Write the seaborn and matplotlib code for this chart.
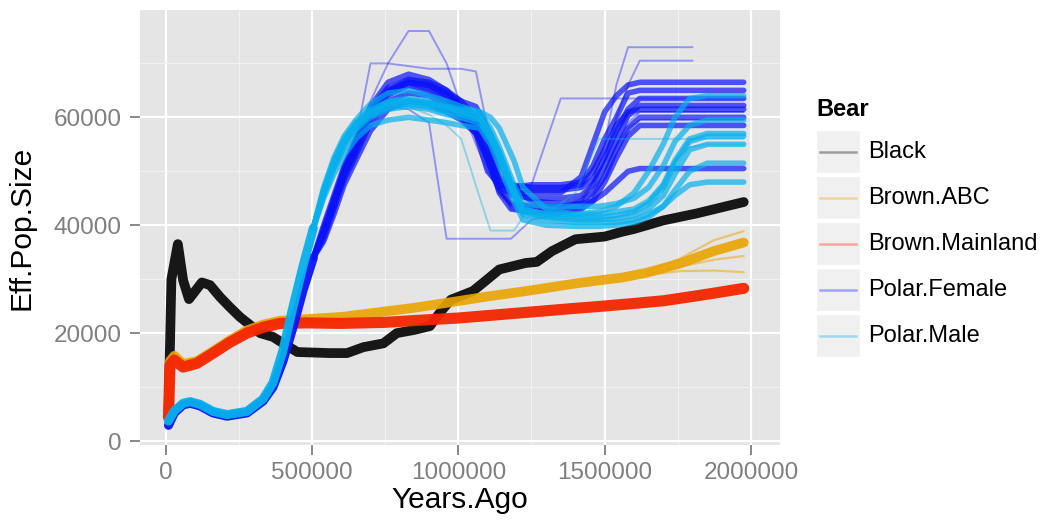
import numpy as np
import pandas as pd
import matplotlib
matplotlib.use("Agg")
import matplotlib.pyplot as plt
from matplotlib.patches import Rectangle
from matplotlib.lines import Line2D
import seaborn as sns

# ---------------- data ----------------
BEARS = ["Black", "Brown.ABC", "Brown.Mainland", "Polar.Female", "Polar.Male"]

BLACK_X = [10000, 20000, 42000, 60000, 80000, 124000, 152000, 186000, 220000, 254000,
           289000, 323000, 367000, 402000, 450000, 560000, 620000, 676000, 744000, 790000,
           850000, 903000, 940000, 975000, 1050000, 1100000, 1140000, 1230000, 1268000,
           1320000, 1400000, 1500000, 1560000, 1600000, 1701000, 1815000, 1975000]
BLACK_Y = [4800, 30000, 36500, 29800, 26300, 29400, 28900, 26700, 24800, 23000,
           21500, 20000, 19300, 18100, 16500, 16300, 16300, 17400, 18100, 20000,
           20600, 21300, 24000, 26200, 27800, 30000, 31800, 33000, 33200,
           35200, 37400, 37900, 38800, 39300, 40900, 42200, 44300]

ORANGE_X = [10000, 15000, 30000, 60000, 107000, 163000, 220000, 278000, 334000, 391000,
            483000, 600000, 733000, 850000, 995000, 1100000, 1245000, 1400000, 1484000,
            1560000, 1644000, 1757000, 1872000, 1975000]
ORANGE_Y = [4600, 14800, 15800, 14300, 14800, 16700, 18700, 20500, 21600, 22300,
            22600, 23000, 23900, 24700, 25900, 26800, 27900, 29200, 29800,
            30300, 31200, 32900, 35200, 36800]
ORANGE_TAIL_X = [1644000, 1757000, 1872000, 1975000]
ORANGE_TAIL_HI = [31400, 33800, 37200, 38900]
ORANGE_TAIL_LO = [31000, 32300, 33600, 34300]
ORANGE_TAIL_LOW2 = [30800, 31500, 31600, 31300]

RED_X = [10000, 15000, 30000, 60000, 107000, 163000, 220000, 278000, 334000, 391000,
         483000, 600000, 750000, 903000, 1000000, 1245000, 1400000, 1494000, 1600000,
         1701000, 1800000, 1872000, 1975000]
RED_Y = [4400, 14000, 15000, 13700, 14400, 16300, 18300, 20000, 21100, 21800,
         21900, 21800, 22000, 22500, 22800, 23900, 24600, 25000, 25500,
         26000, 26800, 27400, 28300]

# polar bears: shared early history, then bootstrap replicates
EARLY_X = [10000, 30000, 60000, 84000, 118000, 162000, 210000, 278000, 333000, 367000,
           401000, 435000, 470000, 505000]
FEMALE_EARLY_Y = [2900, 5200, 6700, 7000, 6500, 5200, 4600, 5200, 7400, 10000,
                  14800, 21000, 28000, 34000]
MALE_EARLY_Y = [3700, 5600, 7000, 7300, 6800, 5500, 4900, 5500, 7800, 10800,
                16800, 24800, 32500, 39500]

FX = [505000, 540000, 575000, 610000, 650000, 700000, 760000, 830000, 900000, 960000,
      1010000, 1060000, 1100000, 1140000, 1180000, 1250000, 1350000, 1420000, 1460000,
      1500000, 1540000, 1580000, 1620000, 1800000, 1975000]
F_A = [34000, 38200, 43700, 49300, 53900, 60400, 64100, 65900, 65000, 63200, 61300, 58500, 53900,
       47800, 45500, 45000, 45000, 45500, 47500, 51100, 55700, 60400, 62200, 62200, 62200]
F_B = [34000, 40000, 45500, 51000, 56000, 62000, 66500, 68000, 67000, 65000, 62000, 57000, 50000,
       47500, 47000, 47500, 47500, 48000, 51000, 56000, 60000, 64500, 65000, 65000, 65000]
F_C = [34000, 37000, 42000, 47500, 52000, 57500, 61500, 63000, 62500, 61000, 59500, 57000, 53000,
       46000, 43000, 42500, 42500, 43000, 44500, 48000, 52500, 56500, 58500, 58500, 58500]
F_D = [34000, 39000, 44500, 50000, 55000, 61000, 64500, 66500, 66000, 64500, 63000, 62000, 58000,
       52000, 47000, 44500, 44000, 44500, 46000, 49000, 54000, 58000, 60000, 60000, 60000]
F_E = [34000, 38500, 44000, 49500, 54500, 61000, 65000, 67000, 66000, 64000, 61500, 58000, 52000,
       47000, 46000, 46000, 46000, 49000, 55000, 61000, 64000, 66000, 66500, 66500, 66500]
F_M = [34000, 38800, 44200, 49800, 54500, 61000, 64800, 66500, 65800, 64000, 62000, 59500, 55000,
       48500, 46500, 46500, 46500, 47000, 48500, 52500, 57500, 61500, 63500, 63500, 63500]
F_K = [34000, 37500, 43000, 48500, 53000, 59000, 63000, 64500, 64000, 62000, 60000, 57000, 52000,
       46500, 44000, 43500, 43500, 44000, 44500, 46000, 48000, 50000, 50500, 50500, 50500]
F_N = [34000, 39500, 45000, 50500, 55500, 61500, 65500, 67000, 66500, 65000, 63000, 60000, 56000,
       49000, 47500, 47000, 47000, 47500, 50000, 54000, 58500, 61000, 61500, 61500, 61500]
# outlying replicates
F_F = [34000, 39000, 45000, 51000, 56000, 63000, 70000, 76000, 76000, 70000, 62000, 55000, 50000,
       46000, 44000, 43500, 43500, 44500, 47000, 52000, 57000, 60000, 61000, 61000, 61000]
F_G = [34000, 38000, 43000, 48500, 53000, 59000, 62000, 61500, 59000, 37500, 37500, 37500, 37500,
       37500, 37500, 41000, 42000, 43500, 46000, 50000, 54500, 58000, 59500, 59500, 59500]
F_H = [34000, 38500, 44000, 49500, 54500, 60500, 64500, 66000, 65000, 63000, 60500, 57500, 53000,
       47500, 47000, 47500, 63500, 63500, 63500, 63500, 63500, 63500, 63500, 63500, 63500]
F_I = [34000, 38000, 43500, 49000, 53500, 60000, 64000, 65500, 64500, 62500, 60500, 57500, 52500,
       47000, 43500, 42500, 42500, 44000, 48000, 55000, 66000, 73000, 73000, 73000, np.nan]
F_J = [34000, 39500, 45000, 50500, 56000, 70000, 70000, 69500, 69000, 69000, 69000, 68500, 58000,
       47000, 43000, 42000, 42000, 43000, 45500, 50000, 55000, 59000, 61000, 61000, 61000]
F_L = [34000, 38500, 44000, 49500, 54000, 60500, 64500, 66000, 65000, 63000, 61000, 58000, 53000,
       47000, 44000, 43000, 43000, 45000, 48000, 52000, 60000, 66000, 70500, 70500, np.nan]

MX = [505000, 540000, 575000, 610000, 650000, 700000, 760000, 830000, 900000, 960000,
      1010000, 1074000, 1110000, 1140000, 1190000, 1221000, 1300000, 1400000, 1480000,
      1540000, 1600000, 1650000, 1700000, 1740000, 1790000, 1850000, 1975000]
M_A = [39500, 46000, 51000, 55000, 58000, 60500, 62000, 62500, 62000, 61000, 60500, 59500, 56500, 53000,
       46000, 42500, 41500, 41000, 41000, 41200, 41800, 43000, 45500, 49500, 54000, 55000, 55000]
M_B = [39500, 47000, 52500, 56500, 59500, 62500, 64500, 65000, 64000, 63000, 62000, 61000, 58000, 54500,
       47500, 44000, 43500, 43500, 43500, 44000, 45000, 47000, 51000, 55500, 58500, 59500, 59500]
M_C = [39500, 45000, 49500, 53000, 56000, 58500, 59500, 60000, 59500, 59000, 58500, 58000, 55000, 51000,
       44500, 41000, 40000, 39800, 39800, 40000, 40500, 41500, 43500, 46500, 50000, 51500, 51500]
M_D = [39500, 46500, 52000, 56000, 59000, 61500, 63000, 63500, 63000, 62000, 61000, 60000, 57000, 53500,
       46500, 43000, 42000, 42000, 42500, 43500, 46000, 50000, 55000, 60000, 63500, 64000, 64000]
M_E = [39500, 45500, 50500, 54500, 57500, 60000, 61500, 62000, 61500, 60500, 60000, 59000, 56000, 52500,
       45500, 42000, 41000, 40500, 40500, 40500, 41000, 42000, 43500, 45500, 47500, 48000, 48000]
M_H = [39500, 46500, 51500, 55500, 58500, 61000, 62500, 63000, 62500, 62000, 61500, 61000, 60000, 58000,
       52000, 47000, 43000, 42000, 42000, 42500, 43000, 44500, 47500, 52000, 56000, 57000, 57000]
M_J = [39500, 46200, 51500, 55500, 58800, 61200, 62800, 63200, 62700, 61700, 61000, 60000, 57000, 53500,
       46500, 43000, 42000, 41500, 41500, 41800, 42500, 44000, 47000, 51500, 55500, 56500, 56500]
M_F = [39500, 46000, 51000, 55000, 58000, 61000, 62500, 62000, 60500, 58500, 56000, 45000, 39000, 39000,
       39000, 41500, 41500, 41000, 41000, 41500, 42500, 44500, 48000, 52000, 54500, 55000, 55000]
M_G = [39500, 45500, 50500, 54500, 57500, 60000, 61500, 62000, 61500, 60500, 59500, 58500, 55500, 52000,
       45000, 42000, 42000, 46000, 56000, 56000, 56000, 56000, 56000, 56000, 56000, 56000, 56000]

X_TICKS = [0, 500000, 1000000, 1500000, 2000000]
X_TICK_LABELS = ["0", "500000", "1000000", "1500000", "2000000"]
Y_TICKS = [0, 20000, 40000, 60000]
Y_TICK_LABELS = ["0", "20000", "40000", "60000"]

# ---------------- long table ----------------
rows = []
def add(bear, rep, kind, xs, ys):
    for x, y in zip(xs, ys):
        rows.append((bear, rep, kind, x, y))

add("Black", "b1", "core", BLACK_X, BLACK_Y)
add("Brown.ABC", "o1", "core", ORANGE_X, ORANGE_Y)
add("Brown.ABC", "o2", "thin", ORANGE_TAIL_X, ORANGE_TAIL_HI)
add("Brown.ABC", "o3", "thin", ORANGE_TAIL_X, ORANGE_TAIL_LO)
add("Brown.ABC", "o4", "thin", ORANGE_TAIL_X, ORANGE_TAIL_LOW2)
add("Brown.Mainland", "r1", "core", RED_X, RED_Y)
add("Polar.Female", "fe", "early", EARLY_X, FEMALE_EARLY_Y)
for name, ys in [("fa", F_A), ("fb", F_B), ("fc", F_C), ("fd", F_D), ("fe2", F_E),
                 ("fm", F_M), ("fk", F_K), ("fn", F_N)]:
    add("Polar.Female", name, "core", FX, ys)
for name, ys in [("ff", F_F), ("fg", F_G), ("fh", F_H), ("fi", F_I), ("fj", F_J), ("fl", F_L)]:
    add("Polar.Female", name, "outlier", FX, ys)
add("Polar.Male", "me", "early", EARLY_X, MALE_EARLY_Y)
for name, ys in [("ma", M_A), ("mb", M_B), ("mc", M_C), ("md", M_D), ("mee", M_E), ("mh", M_H), ("mj", M_J)]:
    add("Polar.Male", name, "core", MX, ys)
for name, ys in [("mf", M_F), ("mg", M_G)]:
    add("Polar.Male", name, "outlier", MX, ys)

df = pd.DataFrame(rows, columns=["Bear", "rep", "kind", "Years.Ago", "Eff.Pop.Size"])

COLORS = {"Black": "#000000", "Brown.ABC": "#EAA400", "Brown.Mainland": "#F52600",
          "Polar.Female": "#0A12F8", "Polar.Male": "#06B0EC"}
STYLE = {"core": (7.0, 0.9), "thin": (1.6, 0.5), "early": (6.5, 0.95), "outlier": (1.4, 0.38)}
POLAR_CORE = (4.0, 0.7)

# ---------------- figure ----------------
plt.rcParams["font.family"] = ["Liberation Sans", "DejaVu Sans"]
fig = plt.figure(figsize=(10.62, 5.23), dpi=100)
ax = fig.add_axes([0.1315, 0.1491, 0.603, 0.8317])
ax.set_facecolor("#E5E5E5")

ax.set_xlim(-88470, 2099060)
ax.set_ylim(-741, 79889)
ax.set_xticks(X_TICKS)
ax.set_xticklabels(X_TICK_LABELS)
ax.set_yticks(Y_TICKS)
ax.set_yticklabels(Y_TICK_LABELS)
ax.set_xticks([250000, 750000, 1250000, 1750000], minor=True)
ax.set_yticks([10000, 30000, 50000, 70000], minor=True)
ax.grid(which="major", color="white", linewidth=1.6)
ax.grid(which="minor", color="#F2F2F2", linewidth=0.8)
ax.set_axisbelow(True)
for s in ax.spines.values():
    s.set_visible(False)
ax.tick_params(axis="both", which="major", color="#7F7F7F", length=7, width=1.3,
               labelcolor="#7F7F7F", labelsize=17.5, pad=5)
ax.tick_params(axis="y", pad=6)
ax.tick_params(which="minor", length=0)

for bear in BEARS:
    for kind in ["early", "core", "thin", "outlier"]:
        sub = df[(df.Bear == bear) & (df.kind == kind)]
        if sub.empty:
            continue
        lw, al = STYLE[kind]
        if kind == "core" and bear.startswith("Polar"):
            lw, al = POLAR_CORE
        if bear == "Brown.Mainland":
            lw, al = 8.0, 0.95
        sns.lineplot(data=sub, x="Years.Ago", y="Eff.Pop.Size", units="rep", estimator=None,
                     sort=False, color=COLORS[bear], linewidth=lw, alpha=al, legend=False, ax=ax,
                     solid_joinstyle="round", solid_capstyle="round")

ax.set_xlabel("Years.Ago", fontsize=21.5, color="black", labelpad=2)
ax.set_ylabel("Eff.Pop.Size", fontsize=21.5, color="black", labelpad=13)

# ---------------- legend (ggplot style) ----------------
W, H = 1062.0, 523.0
fig.text(816 / W, 1 - 110 / H, "Bear", fontsize=17, fontweight="bold", va="center", ha="left")
for i, bear in enumerate(BEARS):
    top = 130 + i * 46
    fig.patches.append(Rectangle((816 / W, 1 - (top + 43) / H), 44 / W, 43 / H,
                                 transform=fig.transFigure, facecolor="#F0F0F0",
                                 edgecolor="white", linewidth=1))
    cy = 1 - (top + 21.5) / H
    fig.lines.append(Line2D([820 / W, 856 / W], [cy, cy], transform=fig.transFigure,
                            color=COLORS[bear], alpha=0.35, linewidth=1.8))
    fig.text(868 / W, cy, bear, fontsize=17, va="center", ha="left", color="black")

fig.savefig("out.png", dpi=100)
